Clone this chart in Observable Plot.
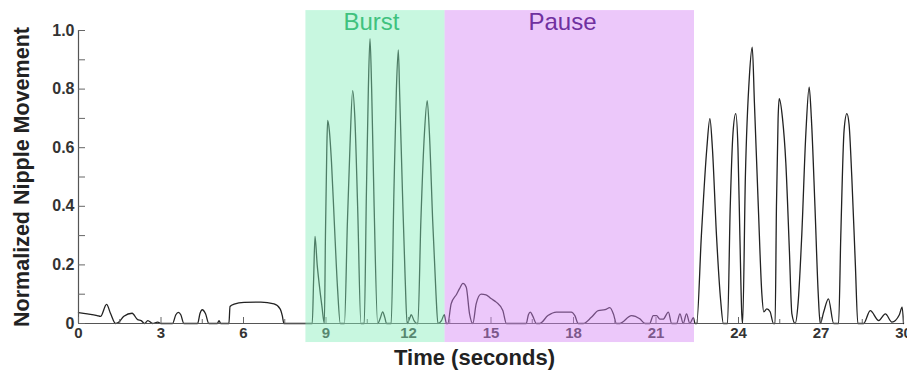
<!DOCTYPE html>
<html>
<head>
<meta charset="utf-8">
<script src="https://cdn.jsdelivr.net/npm/d3@7"></script>
<script src="https://cdn.jsdelivr.net/npm/@observablehq/plot@0.6"></script>
<style>
  html, body { margin: 0; padding: 0; background: #fff; }
  #chart svg { display: block; }
</style>
</head>
<body>
<div id="chart"></div>
<script>
// Time (s) and normalized nipple movement
const times = [
  0, 0.32, 0.68, 0.8, 1.02, 1.17, 1.35, 1.47, 1.65, 1.95, 2.15, 2.28, 2.4, 2.52, 2.7, 2.88, 3.0,
  3.42, 3.54, 3.63, 3.72, 3.83, 4.33, 4.42, 4.5, 4.62, 4.74, 5.05, 5.11, 5.17,
  5.47, 5.51, 5.66, 6.02, 6.63, 7.11, 7.33, 7.41, 7.47, 8.5,
  8.55, 8.6, 8.68, 8.75, 8.85, 8.94,
  8.98, 9.03, 9.06, 9.12, 9.2, 9.3, 9.42, 9.52,
  9.67, 9.78, 9.87, 9.97, 10.05, 10.15, 10.27,
  10.39, 10.47, 10.54, 10.6, 10.66, 10.75, 10.88,
  10.98, 11.06, 11.14, 11.2,
  11.37, 11.47, 11.56, 11.63, 11.68, 11.78, 11.88, 11.95,
  12.05, 12.1, 12.2, 12.3,
  12.34, 12.45, 12.58, 12.68, 12.76, 12.88, 13.0, 13.07,
  13.2, 13.3, 13.38,
  13.43, 13.55, 13.75, 13.85, 13.98, 14.1, 14.22, 14.34,
  14.46, 14.64, 14.82, 15.0, 15.19, 15.43, 15.56,
  16.28, 16.36, 16.43, 16.52, 16.65,
  16.77, 17.07, 17.38, 17.92, 18.05, 18.17,
  18.35, 18.65, 18.9, 19.15, 19.32, 19.45, 19.56,
  19.68, 20.11, 20.41, 20.6,
  20.77, 20.9, 21.02, 21.14, 21.26, 21.45, 21.57, 21.75, 21.87, 21.99, 22.11, 22.23, 22.36, 22.42,
  22.48, 22.65, 22.85, 22.96, 23.05, 23.2, 23.35, 23.45,
  23.6, 23.7, 23.8, 23.9, 23.98, 24.05, 24.12, 24.15,
  24.25, 24.4, 24.5, 24.58, 24.72, 24.85, 24.92, 25.03, 25.15, 25.27,
  25.33, 25.38, 25.44, 25.48, 25.6, 25.72, 25.85, 25.94, 26.06,
  26.17, 26.3, 26.45, 26.57, 26.65, 26.78, 26.9, 26.97,
  27.1, 27.27, 27.46,
  27.64, 27.72, 27.84, 27.94, 28.02, 28.12, 28.25, 28.34,
  28.55, 28.79, 29.1, 29.34, 29.58, 29.85, 29.95, 30
];
const movement = [
  0.037, 0.033, 0.027, 0.024, 0.065, 0.033, 0, 0.005, 0.025, 0.035, 0.013, 0.01, 0, 0.01, 0, 0.005, 0,
  0, 0.03, 0.038, 0.03, 0, 0, 0.035, 0.047, 0.033, 0, 0, 0.01, 0,
  0, 0.058, 0.066, 0.072, 0.073, 0.067, 0.05, 0.027, 0, 0,
  0.15, 0.297, 0.2, 0.137, 0.06, 0,
  0.3, 0.6, 0.693, 0.66, 0.55, 0.35, 0.12, 0,
  0, 0.35, 0.6, 0.795, 0.7, 0.4, 0,
  0, 0.45, 0.8, 0.972, 0.8, 0.4, 0,
  0.02, 0.04, 0.02, 0,
  0, 0.45, 0.8, 0.934, 0.78, 0.45, 0.15, 0,
  0.02, 0.03, 0.01, 0,
  0, 0.35, 0.65, 0.761, 0.65, 0.35, 0.1, 0,
  0.01, 0.03, 0,
  0, 0.067, 0.1, 0.118, 0.137, 0.124, 0.033, 0,
  0.067, 0.1, 0.098, 0.085, 0.073, 0.044, 0,
  0, 0.03, 0.039, 0.025, 0,
  0, 0.027, 0.039, 0.039, 0.027, 0,
  0, 0.021, 0.044, 0.047, 0.054, 0.033, 0,
  0, 0.027, 0.016, 0,
  0, 0.027, 0.027, 0.015, 0.015, 0.039, 0, 0, 0.033, 0, 0.033, 0, 0.02, 0,
  0, 0.3, 0.6, 0.699, 0.6, 0.3, 0.08, 0,
  0, 0.4, 0.65, 0.716, 0.6, 0.3, 0.03, 0,
  0.5, 0.85, 0.943, 0.75, 0.4, 0.1, 0.04, 0.05, 0.04, 0,
  0, 0.4, 0.7, 0.767, 0.7, 0.55, 0.25, 0.034, 0,
  0.073, 0.3, 0.65, 0.807, 0.7, 0.4, 0.1, 0,
  0.04, 0.084, 0,
  0, 0.3, 0.66, 0.716, 0.68, 0.5, 0.2, 0,
  0, 0.044, 0.01, 0.033, 0.005, 0.03, 0.056, 0
];

// Shaded phases
const phaseNames = ["Burst", "Pause"];
const phaseStart = [8.27, 13.33];
const phaseEnd = [13.33, 22.4];
const phaseFill = ["#85edba", "#d585f4"];
const phaseLabelX = [10.65, 17.6];
const phaseLabelColor = ["#3fc27e", "#7030a0"];

// Tick values and labels
const xMajorTicks = [0, 3, 6, 9, 12, 15, 18, 21, 24, 27, 30];
const xMinorTicks = [1.5, 4.5, 7.5, 10.5, 13.5, 16.5, 19.5, 22.5, 25.5, 28.5];
const yMajorTicks = [0, 0.2, 0.4, 0.6, 0.8, 1.0];
const yMinorTicks = [0.1, 0.3, 0.5, 0.7, 0.9];
const yTickLabels = ["0", "0.2", "0.4", "0.6", "0.8", "1.0"];

const series = times.map((t, i) => ({t, v: movement[i]}));
const phases = phaseNames.map((name, i) => ({
  name, x1: phaseStart[i], x2: phaseEnd[i], fill: phaseFill[i],
  lx: phaseLabelX[i], color: phaseLabelColor[i]
}));

const font = "'Liberation Sans', Arial, sans-serif";

const chart = Plot.plot({
  width: 907,
  height: 374,
  marginLeft: 78,
  marginRight: 4,
  marginTop: 30,
  marginBottom: 51,
  style: {fontFamily: font, background: "#fff", overflow: "visible"},
  x: {domain: [0, 30], label: null},
  y: {domain: [0, 1], label: null},
  marks: [
    // data trace
    Plot.line(series, {x: "t", y: "v", stroke: "#222", strokeWidth: 1.3, curve: "monotone-x"}),
    // axis lines
    Plot.ruleY([0], {x1: 0, x2: 30, stroke: "#555", strokeWidth: 1.2}),
    Plot.ruleX([0], {y1: 0, y2: 1, stroke: "#555", strokeWidth: 1.2}),
    // y ticks (inward) and labels
    Plot.axisY({ticks: yMajorTicks, tickSize: -7, tickFormat: () => "", stroke: "#666", label: null}),
    Plot.axisY({ticks: yMinorTicks, tickSize: -7, tickFormat: () => "", stroke: "#666", label: null}),
    Plot.axisY({
      ticks: yMajorTicks, tickSize: 0, tickPadding: 4,
      tickFormat: d => yTickLabels[yMajorTicks.indexOf(d)],
      fontSize: 16, fontWeight: "bold", fill: "#333", label: null
    }),
    // x ticks (inward) and labels
    Plot.axisX({ticks: xMajorTicks, tickSize: -6, tickFormat: () => "", stroke: "#666", label: null}),
    Plot.axisX({ticks: xMinorTicks, tickSize: -4, tickFormat: () => "", stroke: "#666", label: null}),
    Plot.axisX({
      ticks: xMajorTicks, tickSize: 0, tickPadding: 4,
      tickFormat: d => String(d),
      fontSize: 15, fontWeight: "bold", fill: "#333", label: null
    }),
    // shaded phases overlaying the trace
    Plot.rect(phases, {x1: "x1", x2: "x2", y1: -0.065, y2: 1.068, fill: "fill", fillOpacity: 0.45}),
    Plot.text(phases, {x: "lx", y: 1.027, text: "name", fill: "color", fontSize: 24, lineAnchor: "middle"}),
    // axis titles
    Plot.text(["Normalized Nipple Movement"], {
      frameAnchor: "left", y: 0.5, dx: -56, rotate: -90, fontSize: 21.5, fontWeight: "bold", fill: "#222",
      lineAnchor: "middle", textAnchor: "middle"
    }),
    Plot.text(["Time (seconds)"], {
      x: 14.4, frameAnchor: "bottom", dy: 34, fontSize: 22, fontWeight: "bold", fill: "#222",
      lineAnchor: "middle"
    })
  ]
});
document.getElementById("chart").appendChild(chart);
</script>
</body>
</html>
